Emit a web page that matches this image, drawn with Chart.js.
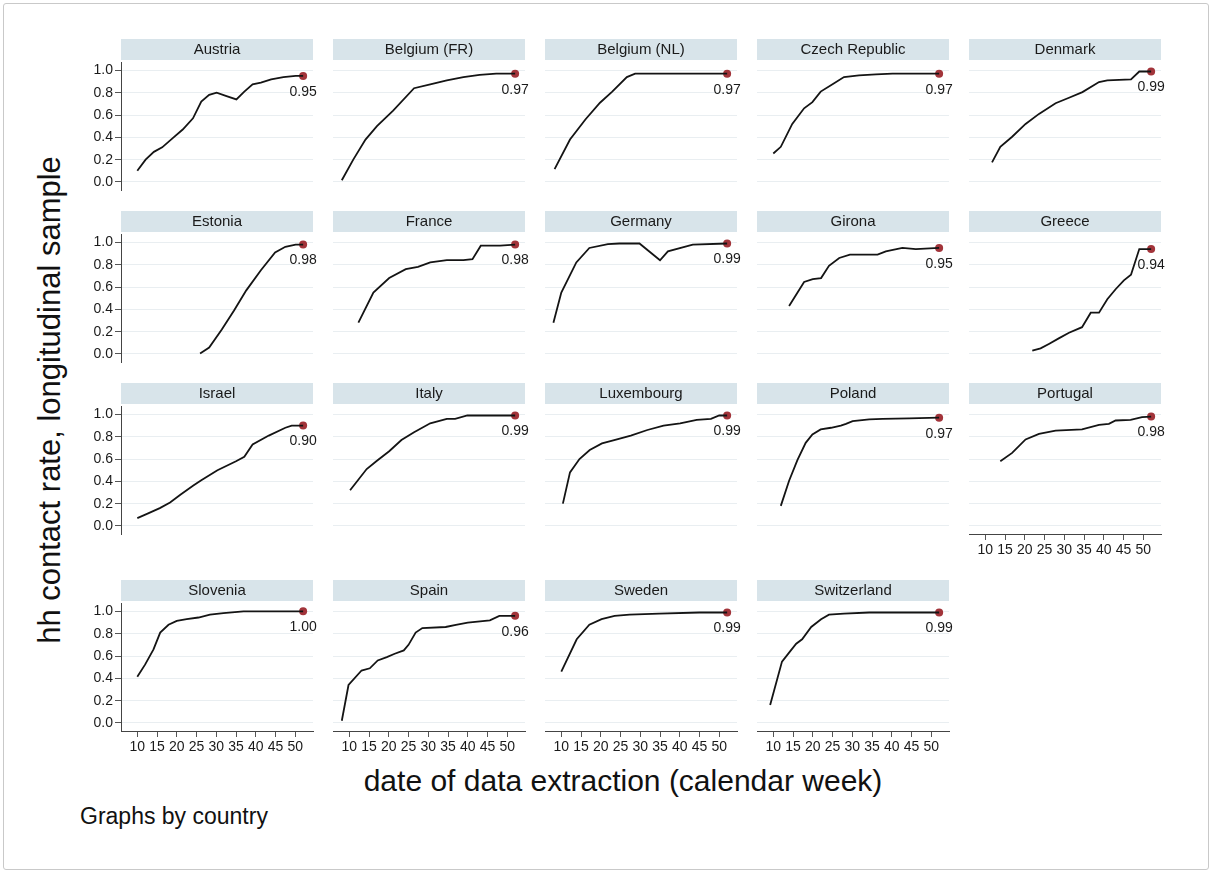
<!DOCTYPE html>
<html>
<head>
<meta charset="utf-8">
<title>hh contact rate by country</title>
<script src="https://cdn.jsdelivr.net/npm/chart.js@4.4.0/dist/chart.umd.min.js"></script>
<style>
    body { margin: 0; background: #fff; font-family: "Liberation Sans", Arial, sans-serif; }
    #page { position: relative; width: 1212px; height: 873px; overflow: hidden; }
    #frame { position: absolute; left: 3px; top: 3px; width: 1204px; height: 865px;
             border: 1px solid #c9c9c9; border-radius: 3px; }
    .panel { position: absolute; }
    #ytitle { position: absolute; left: 50px; top: 400px; white-space: nowrap; color: #111;
              font-size: 31px; transform: translate(-50%, -50%) rotate(-90deg); }
    #xtitle { position: absolute; left: 623px; top: 781px; white-space: nowrap; color: #111;
              font-size: 30px; transform: translate(-50%, -50%); }
    #note { position: absolute; left: 80px; top: 816px; white-space: nowrap; color: #111;
            font-size: 23px; transform: translateY(-50%); }
</style>
</head>
<body>
<div id="page">
    <div id="frame"></div>
    <div id="ytitle">hh contact rate, longitudinal sample</div>
    <div id="xtitle">date of data extraction (calendar week)</div>
    <div id="note">Graphs by country</div>
</div>
<script>
// calendar week / contact rate
const wkAustria = [10, 12.1, 14.2, 16.3, 18.9, 21.5, 24.1, 26.2, 28.2, 30.1, 32.6, 35.1, 37.1, 39.2, 41.3, 43.9, 47, 50.1, 52];
const rtAustria = [0.10, 0.20, 0.27, 0.31, 0.39, 0.47, 0.57, 0.72, 0.78, 0.80, 0.77, 0.74, 0.81, 0.875, 0.89, 0.92, 0.94, 0.95, 0.95];
const wkBelgiumFR = [8.1, 11, 14.1, 17, 21.1, 26.4, 30.5, 34.7, 38.9, 43, 47.2, 52];
const rtBelgiumFR = [0.015, 0.20, 0.38, 0.50, 0.64, 0.84, 0.875, 0.91, 0.94, 0.96, 0.97, 0.97];
const wkBelgiumNL = [8.3, 12.2, 16.1, 19.8, 22.9, 26.6, 28.7, 31.8, 52];
const rtBelgiumNL = [0.115, 0.38, 0.56, 0.71, 0.81, 0.94, 0.97, 0.97, 0.97];
const wkCzech = [10, 11.9, 14.8, 17.8, 19.9, 22, 25, 27.9, 31.7, 36, 40.2, 52];
const rtCzech = [0.255, 0.315, 0.52, 0.66, 0.715, 0.81, 0.875, 0.94, 0.955, 0.964, 0.97, 0.97];
const wkDenmark = [11.7, 13.8, 16.8, 20.2, 23.6, 27.8, 31.2, 34.6, 38.8, 40.9, 46.9, 49, 52];
const rtDenmark = [0.175, 0.315, 0.405, 0.52, 0.61, 0.705, 0.755, 0.805, 0.895, 0.91, 0.92, 0.99, 0.99];
const wkEstonia = [25.9, 28.2, 31.4, 34.5, 37.6, 41.3, 44.9, 47.5, 50.1, 52];
const rtEstonia = [0.005, 0.057, 0.22, 0.39, 0.57, 0.75, 0.91, 0.96, 0.98, 0.98];
const wkFrance = [12.3, 16.1, 20.1, 24.3, 27.4, 30.5, 34.7, 38.9, 41.2, 43.3, 48.2, 52];
const rtFrance = [0.28, 0.55, 0.68, 0.76, 0.78, 0.82, 0.84, 0.84, 0.85, 0.97, 0.97, 0.98];
const wkGermany = [8, 10, 13.8, 17.1, 21.8, 24.7, 29.8, 35, 37, 43.3, 52];
const rtGermany = [0.28, 0.55, 0.82, 0.95, 0.985, 0.99, 0.99, 0.84, 0.92, 0.98, 0.99];
const wkGirona = [14, 17.8, 20, 22.1, 24.1, 26.7, 29.4, 36.4, 38.5, 42.7, 46.1, 52];
const rtGirona = [0.43, 0.645, 0.67, 0.68, 0.79, 0.86, 0.89, 0.89, 0.92, 0.95, 0.94, 0.95];
const wkGreece = [21.9, 24, 26.1, 28.6, 31.2, 34.5, 36.7, 38.8, 40.9, 43, 45.1, 46.9, 49, 52];
const rtGreece = [0.03, 0.05, 0.09, 0.14, 0.19, 0.24, 0.37, 0.37, 0.49, 0.58, 0.66, 0.71, 0.94, 0.94];
const wkIsrael = [10, 12.6, 15.7, 18.3, 20.9, 24.1, 26.2, 30.3, 35, 37.1, 39.2, 43.3, 47.5, 49.1, 52];
const rtIsrael = [0.07, 0.11, 0.16, 0.21, 0.28, 0.36, 0.41, 0.50, 0.58, 0.62, 0.73, 0.81, 0.88, 0.90, 0.90];
const wkItaly = [10.2, 14.4, 17, 20.1, 23.2, 26.4, 30.5, 34.7, 36.8, 39.9, 52];
const rtItaly = [0.32, 0.51, 0.585, 0.67, 0.77, 0.84, 0.92, 0.96, 0.96, 0.99, 0.99];
const wkLuxembourg = [10.4, 12.2, 14.6, 17.2, 20.3, 23.4, 27.6, 31.8, 35.9, 40.1, 44.3, 47.9, 50, 52];
const rtLuxembourg = [0.20, 0.48, 0.60, 0.68, 0.74, 0.77, 0.81, 0.86, 0.90, 0.92, 0.95, 0.96, 0.99, 0.99];
const wkPoland = [11.9, 14, 16.1, 18.2, 19.9, 22, 24.6, 27.1, 28.4, 30.1, 34.3, 37.7, 44.4, 52];
const rtPoland = [0.18, 0.405, 0.59, 0.745, 0.82, 0.865, 0.88, 0.90, 0.915, 0.94, 0.955, 0.96, 0.965, 0.97];
const wkPortugal = [13.8, 16.8, 20.2, 23.6, 27.8, 34.5, 38.8, 41.3, 43, 46.8, 49.7, 52];
const rtPortugal = [0.58, 0.655, 0.775, 0.825, 0.855, 0.865, 0.905, 0.915, 0.945, 0.95, 0.975, 0.98];
const wkSlovenia = [10, 12, 14.1, 15.8, 17.9, 20, 22.5, 25.5, 28.4, 31.8, 36.9, 52];
const rtSlovenia = [0.415, 0.525, 0.66, 0.81, 0.88, 0.915, 0.93, 0.945, 0.97, 0.985, 1.0, 1.0];
const wkSpain = [8.1, 9.8, 13.1, 15.2, 17.2, 19.5, 21.5, 23.8, 25, 26.8, 28.5, 34.4, 37, 40, 45.6, 48, 52];
const rtSpain = [0.02, 0.34, 0.47, 0.49, 0.56, 0.59, 0.62, 0.65, 0.70, 0.81, 0.85, 0.86, 0.88, 0.90, 0.92, 0.96, 0.96];
const wkSweden = [10, 13.9, 17.1, 20.2, 23.5, 27.3, 34.8, 45, 52];
const rtSweden = [0.46, 0.75, 0.88, 0.93, 0.96, 0.97, 0.98, 0.99, 0.99];
const wkSwitzerland = [9.2, 12.2, 14, 15.8, 17.3, 19.6, 22.1, 24.1, 27.9, 34.3, 52];
const rtSwitzerland = [0.16, 0.55, 0.63, 0.71, 0.75, 0.86, 0.93, 0.97, 0.98, 0.99, 0.99];

const countries = ['Austria', 'Belgium (FR)', 'Belgium (NL)', 'Czech Republic', 'Denmark',
                   'Estonia', 'France', 'Germany', 'Girona', 'Greece',
                   'Israel', 'Italy', 'Luxembourg', 'Poland', 'Portugal',
                   'Slovenia', 'Spain', 'Sweden', 'Switzerland'];
const weeks = [wkAustria, wkBelgiumFR, wkBelgiumNL, wkCzech, wkDenmark,
               wkEstonia, wkFrance, wkGermany, wkGirona, wkGreece,
               wkIsrael, wkItaly, wkLuxembourg, wkPoland, wkPortugal,
               wkSlovenia, wkSpain, wkSweden, wkSwitzerland];
const rates = [rtAustria, rtBelgiumFR, rtBelgiumNL, rtCzech, rtDenmark,
               rtEstonia, rtFrance, rtGermany, rtGirona, rtGreece,
               rtIsrael, rtItaly, rtLuxembourg, rtPoland, rtPortugal,
               rtSlovenia, rtSpain, rtSweden, rtSwitzerland];
const xTicks = [10, 15, 20, 25, 30, 35, 40, 45, 50];
const yTicks = [0, 0.2, 0.4, 0.6, 0.8, 1.0];

// panel grid (plot area corners in page pixels)
const colLeft = [121, 333, 545, 757, 969];
const rowTop = [62, 234, 406, 603];
const PLOT_W = 192, PLOT_H = 128, Y_W = 45, HEAD = 24, X_H = 30, PAD_R = 12;
const FONT = '"Liberation Sans", Arial, sans-serif';

// grey strip with the country name above every plot
const stripPlugin = {
    id: 'strip',
    beforeDraw(chart, args, opts) {
        const { ctx, chartArea } = chart;
        ctx.save();
        ctx.fillStyle = '#d8e4ea';
        ctx.fillRect(chartArea.left, 1, chartArea.right - chartArea.left, HEAD - 3);
        ctx.fillStyle = '#1a1a1a';
        ctx.font = '15px ' + FONT;
        ctx.textAlign = 'center';
        ctx.textBaseline = 'middle';
        ctx.fillText(opts.text, (chartArea.left + chartArea.right) / 2, (HEAD - 2) / 2 + 1);
        ctx.restore();
    }
};

// value printed under the last (red) point
const endLabelPlugin = {
    id: 'endLabel',
    afterDatasetsDraw(chart, args, opts) {
        const pt = chart.getDatasetMeta(1).data[0];
        if (!pt) return;
        const ctx = chart.ctx;
        ctx.save();
        ctx.fillStyle = '#1a1a1a';
        ctx.font = '14px ' + FONT;
        ctx.textAlign = 'center';
        ctx.textBaseline = 'top';
        ctx.fillText(opts.text, pt.x, pt.y + 9);
        ctx.restore();
    }
};

function buildPanel(i) {
    const row = Math.floor(i / 5), col = i % 5;
    const showY = col === 0;
    const showX = row === 3 || (row === 2 && col === 4);

    const canvas = document.createElement('canvas');
    canvas.className = 'panel';
    canvas.width = Y_W + PLOT_W + PAD_R;
    canvas.height = HEAD + PLOT_H + X_H;
    canvas.style.left = (colLeft[col] - Y_W) + 'px';
    canvas.style.top = (rowTop[row] - HEAD) + 'px';
    document.getElementById('page').appendChild(canvas);

    const wk = weeks[i], rt = rates[i];
    const pts = wk.map((w, k) => ({ x: w, y: rt[k] }));
    const last = pts[pts.length - 1];

    new Chart(canvas, {
        type: 'line',
        data: {
            datasets: [{
                data: pts,
                borderColor: '#141414',
                borderWidth: 1.8,
                pointRadius: 0,
                tension: 0
            }, {
                data: [last],
                showLine: false,
                pointRadius: 4,
                pointBackgroundColor: '#a2343a',
                pointBorderWidth: 0
            }]
        },
        options: {
            responsive: false,
            animation: false,
            devicePixelRatio: 1,
            layout: { padding: { right: PAD_R } },
            plugins: {
                legend: { display: false },
                tooltip: { enabled: false },
                title: { display: true, text: '', font: { size: 14, lineHeight: 1 }, padding: { top: 0, bottom: HEAD - 14 } },
                strip: { text: countries[i] },
                endLabel: { text: last.y.toFixed(2) }
            },
            scales: {
                x: {
                    type: 'linear',
                    min: 5.87,
                    max: 54.5,
                    afterBuildTicks: s => { s.ticks = xTicks.map(v => ({ value: v })); },
                    afterFit: s => { s.height = X_H; },
                    grid: { display: showX, drawOnChartArea: false, tickLength: 6, tickColor: '#555' },
                    border: { display: showX, color: '#444', width: 1 },
                    ticks: { display: showX, color: '#1a1a1a', padding: 2, maxRotation: 0,
                             font: { size: 14, family: FONT } }
                },
                y: {
                    min: -0.072,
                    max: 1.075,
                    afterBuildTicks: s => { s.ticks = yTicks.map(v => ({ value: v })); },
                    afterFit: s => { s.width = Y_W; },
                    grid: { color: '#e9eef1', lineWidth: 1, drawTicks: showY, tickLength: 6, tickColor: '#555' },
                    border: { display: showY, color: '#444', width: 1 },
                    ticks: { display: showY, color: '#1a1a1a', padding: 2,
                             callback: v => v.toFixed(1),
                             font: { size: 14, family: FONT } }
                }
            }
        },
        plugins: [stripPlugin, endLabelPlugin]
    });
}

document.addEventListener('DOMContentLoaded', function() {
    countries.forEach((c, i) => buildPanel(i));
});
</script>
</body>
</html>
